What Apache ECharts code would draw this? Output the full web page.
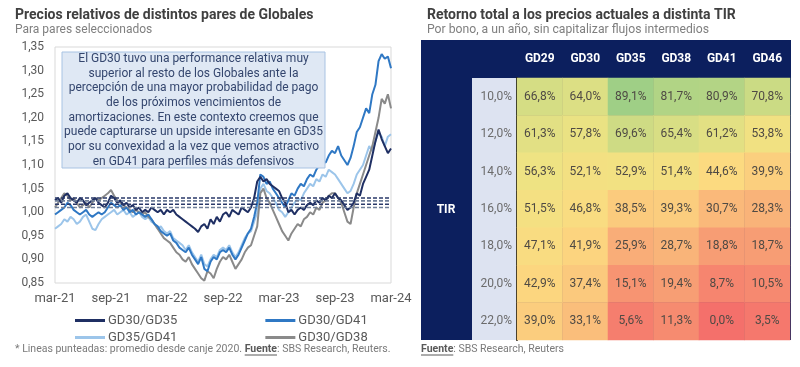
<!DOCTYPE html>
<html><head><meta charset="utf-8">
<script src="https://cdn.jsdelivr.net/npm/echarts@6.0.0/dist/echarts.min.js"></script>
<style>html,body{margin:0;padding:0;background:#fff}#c{width:800px;height:367px}</style>
</head><body><div id="c"></div>
<script>
// ---------- Left chart data (3 observations per month, mar-21 .. mar-24) ----------
const tickLabels = ['mar-21','sep-21','mar-22','sep-22','mar-23','sep-23','mar-24'];
const seriesNames = ['GD30/GD35','GD30/GD41','GD35/GD41','GD30/GD38'];
const gd30gd35 = [
 1.025,1.03,1.02,1.035,1.04,1.03,1.025,1.02,1.03,1.025,1.015,1.02,1.025,1.03,1.02,1.015,1.01,1.02,
 1.035,1.03,1.02,1.025,1.015,1.02,1.01,1.015,1.005,1.01,1.0,1.005,1.0,1.01,1.005,1.0,1.005,0.995,
 1.005,1.0,1.005,0.995,0.99,0.985,0.98,0.975,0.97,0.965,0.958,0.97,0.975,0.965,0.985,0.975,0.99,0.98,
 0.995,1.0,0.99,1.005,1.0,0.995,1.01,1.005,1.0,1.01,1.03,1.065,1.075,1.065,1.07,1.06,1.055,1.05,
 1.045,1.03,1.02,1.0,1.005,0.995,1.005,1.01,1.005,1.015,1.02,1.015,1.025,1.02,1.03,1.025,1.035,1.03,
 1.04,1.03,1.025,1.015,1.005,1.01,1.02,1.04,1.035,1.06,1.075,1.09,1.12,1.15,1.175,1.155,1.14,1.125,
 1.135];
const gd30gd41 = [
 0.995,1.0,1.005,1.01,1.02,1.015,1.005,1.0,0.995,1.0,1.005,0.995,0.99,0.995,1.0,0.995,1.0,1.01,
 1.02,1.015,1.01,1.015,1.005,1.01,1.0,1.005,0.995,1.0,0.995,0.99,0.995,0.985,0.975,0.97,0.96,0.955,
 0.95,0.955,0.94,0.935,0.925,0.92,0.915,0.925,0.91,0.9,0.89,0.905,0.88,0.875,0.895,0.905,0.9,0.915,
 0.92,0.915,0.925,0.91,0.9,0.91,0.925,0.94,0.955,0.965,0.99,1.02,1.08,1.075,1.06,1.065,1.05,1.04,
 1.03,1.02,1.01,1.025,1.04,1.035,1.05,1.06,1.055,1.07,1.08,1.075,1.09,1.1,1.11,1.105,1.12,1.13,
 1.125,1.14,1.12,1.11,1.1,1.115,1.14,1.17,1.18,1.2,1.22,1.21,1.25,1.27,1.32,1.335,1.325,1.33,
 1.305];
const gd35gd41 = [
 0.965,0.97,0.975,0.985,0.98,0.99,0.985,0.975,0.98,0.99,0.995,0.98,0.965,0.962,0.975,0.985,0.99,0.995,
 1.0,1.005,0.995,1.0,1.005,0.995,1.0,0.99,0.995,1.0,0.99,0.985,0.99,0.98,0.975,0.965,0.97,0.96,
 0.955,0.96,0.945,0.94,0.935,0.93,0.92,0.93,0.915,0.905,0.895,0.91,0.89,0.885,0.9,0.91,0.905,0.92,
 0.925,0.92,0.93,0.915,0.905,0.915,0.93,0.945,0.955,0.96,0.98,1.0,1.05,1.06,1.045,1.04,1.03,1.02,
 1.005,1.0,0.99,1.0,1.01,1.02,1.03,1.025,1.04,1.05,1.06,1.055,1.07,1.065,1.08,1.075,1.09,1.085,
 1.08,1.07,1.06,1.05,1.04,1.045,1.06,1.08,1.09,1.1,1.12,1.14,1.13,1.15,1.17,1.16,1.14,1.16,
 1.165];
const gd30gd38 = [
 1.01,1.02,1.03,1.04,1.035,1.025,1.03,1.02,1.01,1.015,1.02,1.01,1.02,1.03,1.025,1.03,1.035,1.04,
 1.047,1.035,1.025,1.02,1.015,1.01,1.005,1.0,1.005,1.0,0.995,1.0,0.99,0.985,0.975,0.965,0.955,0.945,
 0.94,0.935,0.925,0.915,0.91,0.9,0.895,0.905,0.89,0.88,0.87,0.86,0.855,0.875,0.87,0.86,0.88,0.895,
 0.905,0.9,0.91,0.895,0.88,0.89,0.9,0.915,0.925,0.93,0.95,0.97,1.04,1.05,1.03,1.02,1.005,0.99,
 0.975,0.96,0.95,0.94,0.955,0.965,0.975,0.97,0.985,0.99,1.0,0.995,1.01,1.005,1.02,1.025,1.035,1.04,
 1.04,1.03,1.02,1.0,0.98,0.975,1.01,1.04,1.06,1.08,1.1,1.12,1.14,1.17,1.2,1.24,1.23,1.25,
 1.22];
// averages since 2020 exchange (dashed lines)
const averages = [1.030, 1.024, 1.017, 1.010];

// ---------- Right table data ----------
const bonds = ['GD29','GD30','GD35','GD38','GD41','GD46'];
const tirs = ['10,0%','12,0%','14,0%','16,0%','18,0%','20,0%','22,0%'];
const ret10 = [66.8,64.0,89.1,81.7,80.9,70.8];
const ret12 = [61.3,57.8,69.6,65.4,61.2,53.8];
const ret14 = [56.3,52.1,52.9,51.4,44.6,39.9];
const ret16 = [51.5,46.8,38.5,39.3,30.7,28.3];
const ret18 = [47.1,41.9,25.9,28.7,18.8,18.7];
const ret20 = [42.9,37.4,15.1,19.4,8.7,10.5];
const ret22 = [39.0,33.1,5.6,11.3,0.0,3.5];

const note = ['El GD30 tuvo una performance relativa muy',
 'superior al resto de los Globales ante la',
 'percepción de una mayor probabilidad de pago',
 'de los próximos vencimientos de',
 'amortizaciones. En este contexto creemos que',
 'puede capturarse un upside interesante en GD35',
 'por su convexidad a la vez que vemos atractivo',
 'en GD41 para perfiles más defensivos'];

const colors = {'GD30/GD35':'#1f2f63','GD30/GD41':'#2f78c4','GD35/GD41':'#9cc5ea','GD30/GD38':'#8a8a8a'};
const values = {'GD30/GD35':gd30gd35,'GD30/GD41':gd30gd41,'GD35/GD41':gd35gd41,'GD30/GD38':gd30gd38};
const FONT = 'Roboto';

const toXY = arr => arr.map((v,i)=>[i/3, v]);
const drawOrder = ['GD35/GD41','GD30/GD38','GD30/GD41','GD30/GD35'];
const lineSeries = drawOrder.map(n=>({
  name:n, type:'line', xAxisIndex:0, yAxisIndex:0, data:toXY(values[n]),
  showSymbol:false, symbol:'none', lineStyle:{width:2, color:colors[n]}, itemStyle:{color:colors[n]},
  z:3, animation:false
}));
const avgSeries = seriesNames.map((n,k)=>({
  name:n+' prom', type:'line', xAxisIndex:0, yAxisIndex:0,
  data:[[0,averages[k]],[36,averages[k]]], symbol:'none',
  lineStyle:{width:1.6, type:[4,2], color: k%2===0 ? '#2a3a6a' : '#6f7f99'}, z:4, animation:false, silent:true
}));

const rows = [ret10,ret12,ret14,ret16,ret18,ret20,ret22];
const heatData = [];
rows.forEach((r,yi)=>r.forEach((v,xi)=>heatData.push([xi,yi,v])));

// measure helper for underline placement
const cv = document.createElement('canvas').getContext('2d');
function tw(txt, font){ cv.font = font; return cv.measureText(txt).width; }
const footFont = '10.5px ' + FONT, footBold = 'bold 10.5px ' + FONT;
const foot1a = '* Lineas punteadas: promedio desde canje 2020. ';
const f1x = 15 + tw(foot1a, footFont), fW = tw('Fuente', footBold);

const chart = echarts.init(document.getElementById('c'), null, {renderer:'canvas'});
chart.setOption({
  animation:false,
  textStyle:{fontFamily:FONT},
  grid:[
    {left:55, top:47, width:336, height:236, show:true, borderColor:'#d9d9d9', borderWidth:1, backgroundColor:'transparent'},
    {left:517, top:78, width:273, height:262}
  ],
  xAxis:[
    {type:'value', gridIndex:0, min:0, max:36, interval:6,
     axisLine:{show:false}, axisTick:{show:false}, splitLine:{show:false},
     axisLabel:{formatter:v=>tickLabels[Math.round(v/6)], color:'#595959', fontSize:13, margin:9, fontFamily:FONT}},
    {type:'category', gridIndex:1, data:bonds, position:'top',
     axisLine:{show:false}, axisTick:{show:false}, splitLine:{show:false},
     axisLabel:{color:'#ffffff', fontWeight:'bold', fontSize:12, margin:13, fontFamily:FONT}}
  ],
  yAxis:[
    {type:'value', gridIndex:0, min:0.85, max:1.35, interval:0.05,
     axisLine:{show:false}, axisTick:{show:false}, splitLine:{show:false},
     axisLabel:{formatter:v=>v.toFixed(2).replace('.',','), color:'#595959', fontSize:12, margin:11, fontFamily:FONT}},
    {type:'category', gridIndex:1, data:tirs, inverse:true,
     axisLine:{show:true, lineStyle:{color:'#111111', width:2}}, axisTick:{show:false}, splitLine:{show:false},
     axisLabel:{color:'#6b6b6b', fontSize:12, margin:5, fontFamily:FONT}}
  ],
  visualMap:{show:false, min:0, max:89.1, seriesIndex:8, dimension:2,
    inRange:{color:['#f4706b','#f68b70','#f8a576','#fabf7b','#fcda80','#efe383','#d5dd84','#bad685','#9fcf86']}},
  legend:[
    {data:['GD30/GD35','GD30/GD41'], left:70, top:309, icon:'rect', itemWidth:30, itemHeight:3, itemGap:88,
     textStyle:{color:'#595959', fontSize:13, fontFamily:FONT, padding:[0,0,0,-2]}},
    {data:['GD35/GD41','GD30/GD38'], left:70, top:326, icon:'rect', itemWidth:30, itemHeight:3, itemGap:88,
     textStyle:{color:'#595959', fontSize:13, fontFamily:FONT, padding:[0,0,0,-2]}}
  ],
  series:[...lineSeries, ...avgSeries,
    {type:'heatmap', xAxisIndex:1, yAxisIndex:1, data:heatData, z:3,
     label:{show:true, formatter:p=>p.value[2].toFixed(1).replace('.',',')+'%', color:'#4f4a44', fontSize:12, fontFamily:FONT},
     itemStyle:{borderWidth:0}, emphasis:{disabled:true}}
  ],
  graphic:[
    {type:'text', x:15, y:15, style:{text:'Precios relativos de distintos pares de Globales', font:'bold 14px '+FONT, fill:'#404040', verticalAlign:'middle'}},
    {type:'text', x:15, y:30, style:{text:'Para pares seleccionados', font:'12px '+FONT, fill:'#7f7f7f', verticalAlign:'middle'}},
    {type:'text', x:427, y:15, style:{text:'Retorno total a los precios actuales a distinta TIR', font:'bold 14px '+FONT, fill:'#404040', verticalAlign:'middle'}},
    {type:'text', x:427, y:30, style:{text:'Por bono, a un año, sin capitalizar flujos intermedios', font:'12.2px '+FONT, fill:'#7f7f7f', verticalAlign:'middle'}},
    // table background
    {type:'rect', z:-1, shape:{x:421, y:40, width:370, height:300}, style:{fill:'#0c1f5e'}},
    {type:'rect', z:-1, shape:{x:472, y:78, width:45, height:262}, style:{fill:'#dde3f1'}},
    {type:'text', x:446, y:210, style:{text:'TIR', font:'bold 12px '+FONT, fill:'#ffffff', align:'center', verticalAlign:'middle'}},
    // annotation box
    {type:'group', z:100, children:[
      {type:'rect', z:100, shape:{x:62, y:52, width:263, height:116}, style:{fill:'#dfe8f4', stroke:'#a8c3e3', lineWidth:1}},
      {type:'text', z:101, x:193.5, y:51.5, style:{text:note.join('\n'), font:'12px '+FONT, lineHeight:14.7, fill:'#34466e', align:'center', verticalAlign:'top'}}
    ]},
    // footnotes
    {type:'text', x:15, y:349, style:{text:foot1a, font:footFont, fill:'#7a7a7a', verticalAlign:'middle'}},
    {type:'text', x:f1x, y:349, style:{text:'Fuente', font:footBold, fill:'#595959', verticalAlign:'middle'}},
    {type:'line', shape:{x1:f1x, y1:355, x2:f1x+fW, y2:355}, style:{stroke:'#595959', lineWidth:1}},
    {type:'text', x:f1x+fW, y:349, style:{text:': SBS Research, Reuters.', font:footFont, fill:'#7a7a7a', verticalAlign:'middle'}},
    {type:'text', x:421, y:349, style:{text:'Fuente', font:footBold, fill:'#595959', verticalAlign:'middle'}},
    {type:'line', shape:{x1:421, y1:355, x2:421+fW, y2:355}, style:{stroke:'#595959', lineWidth:1}},
    {type:'text', x:421+fW, y:349, style:{text:': SBS Research, Reuters', font:footFont, fill:'#7a7a7a', verticalAlign:'middle'}}
  ]
});
</script></body></html>
